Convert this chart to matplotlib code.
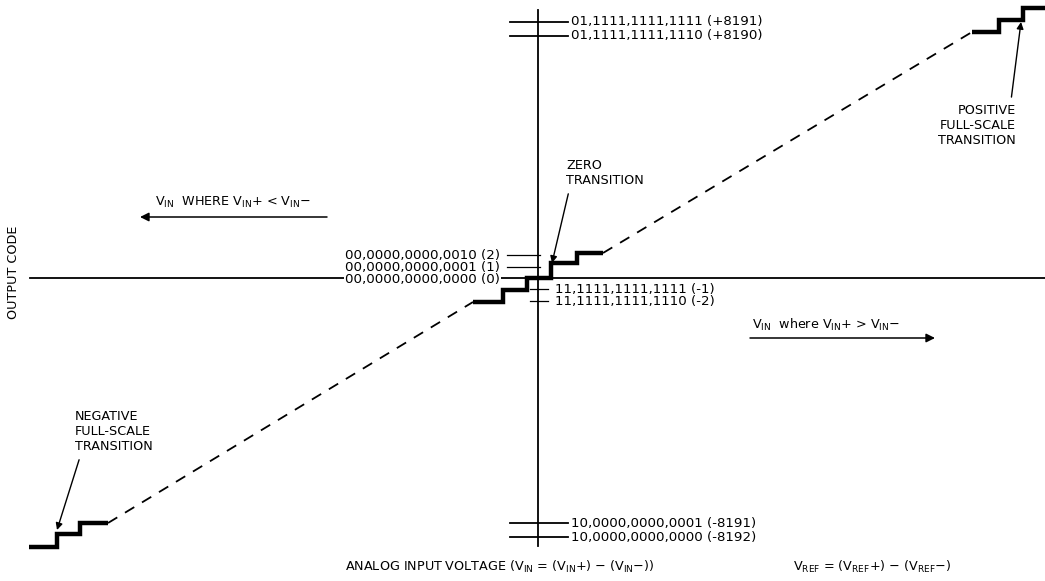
import matplotlib
matplotlib.use("Agg")
import matplotlib.pyplot as plt

plt.rcParams['font.family'] = ['DejaVu Sans']
plt.rcParams['mathtext.fontset'] = 'custom'
plt.rcParams['mathtext.rm'] = 'DejaVu Sans'
plt.rcParams['mathtext.it'] = 'DejaVu Sans'

# staircase vertices (drawing coordinates, y grows downward)
neg_x = [29, 57, 57, 80, 80, 108]
neg_y = [547, 547, 534, 534, 523, 523]
mid_x = [473, 503, 503, 527, 527, 551, 551, 577, 577, 603]
mid_y = [302, 302, 290, 290, 278, 278, 263, 263, 253, 253]
pos_x = [972, 999, 999, 1023, 1023, 1045]
pos_y = [32, 32, 20, 20, 8, 8]

top_codes = ["01,1111,1111,1111 (+8191)", "01,1111,1111,1110 (+8190)"]
top_levels = [22, 36]
bot_codes = ["10,0000,0000,0001 (-8191)", "10,0000,0000,0000 (-8192)"]
bot_levels = [523, 537]
left_codes = ["00,0000,0000,0010 (2)", "00,0000,0000,0001 (1)", "00,0000,0000,0000 (0)"]
left_levels = [255, 267, 279]
right_codes = ["11,1111,1111,1111 (-1)", "11,1111,1111,1110 (-2)"]
right_levels = [289, 301]

fig = plt.figure(figsize=(10.45, 5.81), dpi=100)
ax = fig.add_axes([0, 0, 1, 1])
ax.set_xlim(0, 1045)
ax.set_ylim(581, 0)
ax.axis('off')

cfs = 9.6    # code labels
fs = 9.2     # other text
# axes
ax.plot([30, 1045], [278, 278], color='black', lw=1.3, zorder=1)
ax.plot([538, 538], [10, 546], color='black', lw=1.3, zorder=1)

# staircases
for xs, ys in [(neg_x, neg_y), (mid_x, mid_y), (pos_x, pos_y)]:
    ax.plot(xs, ys, color='black', lw=3.2, solid_joinstyle='miter', solid_capstyle='butt', zorder=3)
# dashed connections
ax.plot([neg_x[-1], mid_x[0]], [neg_y[-1], mid_y[0]], color='black', lw=1.3, ls=(0, (6, 5)))
ax.plot([mid_x[-1], pos_x[0]], [mid_y[-1], pos_y[0]], color='black', lw=1.3, ls=(0, (6, 5)))

# code ticks and labels
for lab, y in zip(top_codes + bot_codes, top_levels + bot_levels):
    ax.plot([510, 568], [y, y], color='black', lw=1.3)
    ax.text(571, y, lab, fontsize=cfs, va='center', ha='left')
for lab, y in zip(left_codes, left_levels):
    if y < 275:
        ax.plot([507, 540], [y, y], color='black', lw=0.9)
    ax.text(500, y, lab, fontsize=cfs, va='center', ha='right', zorder=2,
            bbox=dict(facecolor='white', edgecolor='none', pad=0.5))
for lab, y in zip(right_codes, right_levels):
    ax.plot([530, 548], [y, y], color='black', lw=0.9)
    ax.text(555, y, lab, fontsize=cfs, va='center', ha='left')

# annotations
ax.annotate("NEGATIVE\nFULL-SCALE\nTRANSITION", xy=(57, 530), xytext=(75, 410),
            fontsize=fs, ha='left', va='top', linespacing=1.2,
            arrowprops=dict(arrowstyle='-|>', color='black', lw=1, shrinkA=3, shrinkB=0,
                            mutation_scale=10, relpos=(0.08, 0)))
ax.annotate("POSITIVE\nFULL-SCALE\nTRANSITION", xy=(1021, 22), xytext=(1016, 104),
            fontsize=fs, ha='right', va='top', linespacing=1.2,
            arrowprops=dict(arrowstyle='-|>', color='black', lw=1, shrinkA=3, shrinkB=0,
                            mutation_scale=10, relpos=(0.93, 1)))
ax.annotate("ZERO\nTRANSITION", xy=(552, 263), xytext=(566, 159),
            fontsize=fs, ha='left', va='top', linespacing=1.2,
            arrowprops=dict(arrowstyle='-|>', color='black', lw=1, shrinkA=3, shrinkB=0,
                            mutation_scale=10, relpos=(0.05, 0)))

# direction arrows
ax.annotate("", xy=(140, 217), xytext=(327, 217),
            arrowprops=dict(arrowstyle='-|>', color='black', lw=1.1, shrinkA=0, shrinkB=0, mutation_scale=13))
ax.text(155, 206, r"$\mathrm{V_{IN}}$  WHERE $\mathrm{V_{IN}}$+ < $\mathrm{V_{IN}}$$-$",
        fontsize=fs, ha='left', va='baseline')
ax.annotate("", xy=(935, 338), xytext=(750, 338),
            arrowprops=dict(arrowstyle='-|>', color='black', lw=1.1, shrinkA=0, shrinkB=0, mutation_scale=13))
ax.text(752, 329, r"$\mathrm{V_{IN}}$  where $\mathrm{V_{IN}}$+ > $\mathrm{V_{IN}}$$-$",
        fontsize=fs, ha='left', va='baseline')

ax.text(14, 272, "OUTPUT CODE", fontsize=fs, rotation=90, ha='center', va='center')
ax.text(345, 571, r"ANALOG INPUT VOLTAGE ($\mathrm{V_{IN}}$ = ($\mathrm{V_{IN}}$+) $-$ ($\mathrm{V_{IN}}$$-$))",
        fontsize=fs, ha='left', va='baseline')
ax.text(793, 571, r"$\mathrm{V_{REF}}$ = ($\mathrm{V_{REF}}$+) $-$ ($\mathrm{V_{REF}}$$-$)",
        fontsize=fs, ha='left', va='baseline')

fig.savefig("out.png", dpi=100)
